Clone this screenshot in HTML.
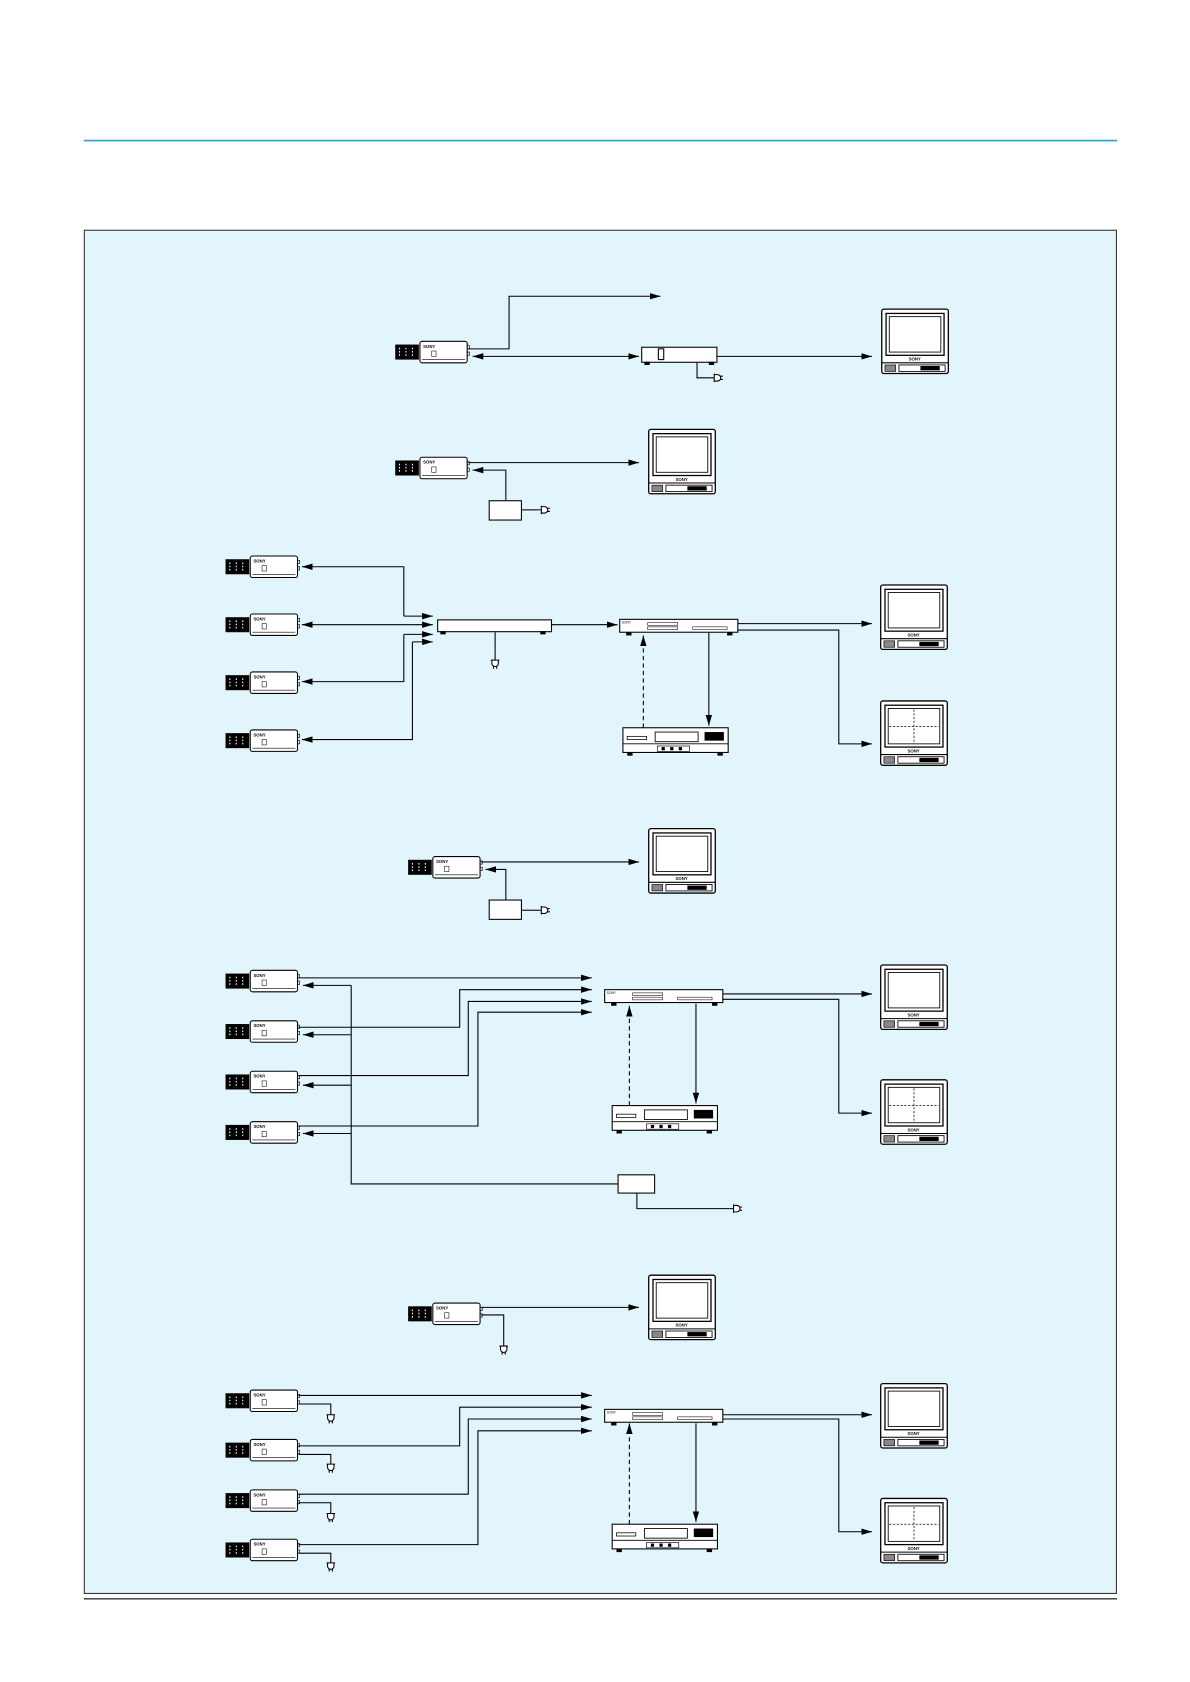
<!DOCTYPE html>
<html><head><meta charset="utf-8"><style>
html,body{margin:0;padding:0;background:#fff;}
svg{display:block;}
text{font-family:"Liberation Sans",sans-serif;}
</style></head><body>
<svg width="1190" height="1682" viewBox="0 0 1108 1567" preserveAspectRatio="none" xmlns="http://www.w3.org/2000/svg">
<defs>
<marker id="a" viewBox="0 0 10 6" refX="10" refY="3" markerWidth="10" markerHeight="6" markerUnits="userSpaceOnUse" orient="auto-start-reverse"><path d="M0,0L10,3L0,6z" fill="#000"/></marker>
<g id="cam">
<rect x="0" y="3" width="22" height="14" fill="#000"/>
<g stroke="#fff" stroke-width="1"><line x1="4" y1="6" x2="4" y2="15" stroke-dasharray="1.5,1.5"/><line x1="10" y1="6" x2="10" y2="15" stroke-dasharray="1.5,1.5"/><line x1="16" y1="6" x2="16" y2="15" stroke-dasharray="1.5,1.5"/></g>
<rect x="23" y="0" width="44" height="20" rx="2" fill="#fff" stroke="#000" stroke-width="1"/>
<line x1="25" y1="17" x2="65" y2="17" stroke="#000" stroke-width="0.6"/>
<text x="26" y="6" font-size="4" font-weight="bold">SONY</text>
<rect x="34" y="9" width="4" height="5" fill="none" stroke="#000" stroke-width="0.5"/>
<rect x="67" y="4" width="2" height="3" fill="none" stroke="#000" stroke-width="0.6"/>
<rect x="67" y="10" width="2" height="3" fill="none" stroke="#000" stroke-width="0.6"/>
</g>
<g id="mon">
<rect x="0" y="0" width="62" height="60" rx="2" fill="#fff" stroke="#000" stroke-width="1.2"/>
<rect x="4" y="4" width="54" height="39" fill="#fff" stroke="#000" stroke-width="1.2"/>
<rect x="7" y="7" width="48" height="33" fill="#fff" stroke="#000" stroke-width="0.8"/>
<text x="25" y="48" font-size="4" font-weight="bold">SONY</text>
<line x1="0" y1="50" x2="62" y2="50" stroke="#000" stroke-width="1"/>
<rect x="3" y="52" width="10" height="6" fill="#888" stroke="#000" stroke-width="0.6"/>
<rect x="16" y="52" width="43" height="6" fill="#fff" stroke="#000" stroke-width="0.8"/>
<rect x="36" y="53" width="18" height="4" fill="#000"/>
</g>
<g id="quad">
<use href="#mon"/>
<line x1="31" y1="8" x2="31" y2="40" stroke="#000" stroke-width="0.7" stroke-dasharray="2,1.5"/>
<line x1="8" y1="24" x2="54" y2="24" stroke="#000" stroke-width="0.7" stroke-dasharray="2,1.5"/>
</g>
<g id="mux">
<rect x="0" y="0" width="110" height="12" fill="#fff" stroke="#000" stroke-width="1"/>
<rect x="6" y="12" width="5" height="3" fill="#000"/><rect x="100" y="12" width="5" height="3" fill="#000"/>
<g fill="none" stroke="#000" stroke-width="0.5"><rect x="26" y="3" width="28" height="2.5"/><rect x="26" y="7" width="28" height="2.5"/><rect x="68" y="7" width="32" height="2.5"/></g>
<text x="2" y="4" font-size="3">SONY</text>
</g>
<g id="vcr">
<rect x="0" y="0" width="98" height="23" fill="#fff" stroke="#000" stroke-width="1"/>
<line x1="0" y1="15" x2="98" y2="15" stroke="#000" stroke-width="0.8"/>
<rect x="4" y="8" width="18" height="3" fill="none" stroke="#000" stroke-width="0.7"/>
<rect x="30" y="4" width="40" height="9" fill="none" stroke="#000" stroke-width="0.8"/>
<rect x="76" y="4" width="18" height="8" fill="#000"/>
<rect x="32" y="17" width="30" height="5" fill="none" stroke="#000" stroke-width="0.6"/>
<rect x="36" y="18" width="3" height="3" fill="#000"/><rect x="44" y="18" width="3" height="3" fill="#000"/><rect x="52" y="18" width="3" height="3" fill="#000"/>
<rect x="4" y="23" width="5" height="3" fill="#000"/><rect x="88" y="23" width="5" height="3" fill="#000"/>
</g>
<g id="plugR"><path d="M0,0h4M4,-4v8M4,-3h3a3,3 0 0 1 0,6h-3M10,-1.5h2M10,1.5h2" fill="#fff" stroke="#000" stroke-width="1"/></g>
<g id="plugD"><path d="M0,0v4M-4,4h8M-3,4v3a3,3 0 0 0 6,0v-3M-1.5,10v2M1.5,10v2" fill="#fff" stroke="#000" stroke-width="1"/></g>
</defs>

<line x1="78" y1="131" x2="1040" y2="131" stroke="#2aa3dc" stroke-width="1.5"/>
<rect x="78.5" y="214.5" width="961" height="1270" fill="#e3f5fc" stroke="#333" stroke-width="1"/>
<line x1="78" y1="1489.5" x2="1040" y2="1489.5" stroke="#333" stroke-width="1.2"/>

<g fill="none" stroke="#000" stroke-width="1">
<path d="M436,325H474V276H615" marker-end="url(#a)"/>
<path d="M440,332H595" marker-start="url(#a)" marker-end="url(#a)"/>
<path d="M668,332H812" marker-end="url(#a)"/>
<path d="M649,338V352H661"/>
<path d="M436,431H595" marker-end="url(#a)"/>
<path d="M471,466V438H440" marker-end="url(#a)"/>
<path d="M486,475H500"/>
<path d="M376,574V528H281" marker-end="url(#a)"/><path d="M376,574H403" marker-end="url(#a)"/>
<path d="M281,582H403" marker-start="url(#a)" marker-end="url(#a)"/>
<path d="M376,591V635H281" marker-end="url(#a)"/><path d="M376,591H403" marker-end="url(#a)"/>
<path d="M384,598V689H281" marker-end="url(#a)"/><path d="M384,598H403" marker-end="url(#a)"/>
<path d="M461,589V611"/>
<path d="M514,582H575" marker-end="url(#a)"/>
<path d="M687,581H812" marker-end="url(#a)"/>
<path d="M687,587H781V693H812" marker-end="url(#a)"/>
<path d="M599,678V592" stroke-dasharray="4,3" marker-end="url(#a)"/>
<path d="M660,589V676" marker-end="url(#a)"/>
<path d="M448,803H595" marker-end="url(#a)"/>
<path d="M471,838V810H452" marker-end="url(#a)"/>
<path d="M486,848H500"/>
<path d="M278,911H551" marker-end="url(#a)"/>
<path d="M278,957H428V922H551" marker-end="url(#a)"/>
<path d="M278,1002H436V933H551" marker-end="url(#a)"/>
<path d="M278,1049H445V943H551" marker-end="url(#a)"/>
<path d="M327,918V1103H575"/>
<path d="M327,918H282" marker-end="url(#a)"/>
<path d="M327,964H282" marker-end="url(#a)"/>
<path d="M327,1011H282" marker-end="url(#a)"/>
<path d="M327,1056H282" marker-end="url(#a)"/>
<path d="M593,1111V1126H679"/>
<path d="M673,926H812" marker-end="url(#a)"/>
<path d="M673,931H781V1037H812" marker-end="url(#a)"/>
<path d="M586,1030V937" stroke-dasharray="4,3" marker-end="url(#a)"/>
<path d="M648,935V1028" marker-end="url(#a)"/>
<path d="M448,1218H595" marker-end="url(#a)"/>
<path d="M448,1225H469V1250"/>
<path d="M278,1300H551" marker-end="url(#a)"/>
<path d="M278,1347H428V1311H551" marker-end="url(#a)"/>
<path d="M278,1392H436V1322H551" marker-end="url(#a)"/>
<path d="M278,1439H445V1333H551" marker-end="url(#a)"/>
<path d="M278,1308H308V1314"/><path d="M278,1355H308V1360"/><path d="M278,1400H308V1406"/><path d="M278,1447H308V1452"/>
<path d="M673,1318H812" marker-end="url(#a)"/>
<path d="M673,1322H781V1427H812" marker-end="url(#a)"/>
<path d="M586,1420V1326" stroke-dasharray="4,3" marker-end="url(#a)"/>
<path d="M648,1326V1418" marker-end="url(#a)"/>
</g>

<use href="#cam" x="368" y="318"/>
<rect x="597.5" y="323.5" width="70" height="14" fill="#fff" stroke="#000"/>
<rect x="613" y="325" width="5" height="10" fill="#fff" stroke="#000"/>
<rect x="600" y="337" width="5" height="3"/><rect x="660" y="337" width="5" height="3"/>
<use href="#plugR" x="661" y="352"/>
<use href="#mon" x="821" y="288"/>

<use href="#cam" x="368" y="426"/>
<use href="#mon" x="604" y="400"/>
<rect x="455.5" y="466.5" width="30" height="18" fill="#fff" stroke="#000"/>
<use href="#plugR" x="500" y="475"/>

<use href="#cam" x="210" y="518"/><use href="#cam" x="210" y="572"/><use href="#cam" x="210" y="626"/><use href="#cam" x="210" y="680"/>
<rect x="407.5" y="577.5" width="106" height="11" fill="#fff" stroke="#000"/>
<rect x="410" y="588" width="5" height="3"/><rect x="503" y="588" width="5" height="3"/>
<use href="#plugD" x="461" y="611"/>
<use href="#mux" x="577" y="577"/>
<use href="#vcr" x="580" y="678"/>
<use href="#mon" x="820" y="545"/>
<use href="#quad" x="820" y="653"/>

<use href="#cam" x="380" y="798"/>
<use href="#mon" x="604" y="772"/>
<rect x="455.5" y="838.5" width="30" height="18" fill="#fff" stroke="#000"/>
<use href="#plugR" x="500" y="848"/>

<use href="#cam" x="210" y="904"/><use href="#cam" x="210" y="951"/><use href="#cam" x="210" y="998"/><use href="#cam" x="210" y="1045"/>
<use href="#mux" x="563" y="922"/>
<use href="#vcr" x="570" y="1030"/>
<use href="#mon" x="820" y="899"/>
<use href="#quad" x="820" y="1006"/>
<rect x="575.5" y="1094.5" width="34" height="17" fill="#fff" stroke="#000"/>
<use href="#plugR" x="679" y="1126"/>

<use href="#cam" x="380" y="1214"/>
<use href="#plugD" x="469" y="1250"/>
<use href="#mon" x="604" y="1188"/>

<use href="#cam" x="210" y="1295"/><use href="#cam" x="210" y="1341"/><use href="#cam" x="210" y="1388"/><use href="#cam" x="210" y="1434"/>
<use href="#plugD" x="308" y="1314"/><use href="#plugD" x="308" y="1360"/><use href="#plugD" x="308" y="1406"/><use href="#plugD" x="308" y="1452"/>
<use href="#mux" x="563" y="1313"/>
<use href="#vcr" x="570" y="1420"/>
<use href="#mon" x="820" y="1289"/>
<use href="#quad" x="820" y="1396"/>
</svg>
</body></html>
